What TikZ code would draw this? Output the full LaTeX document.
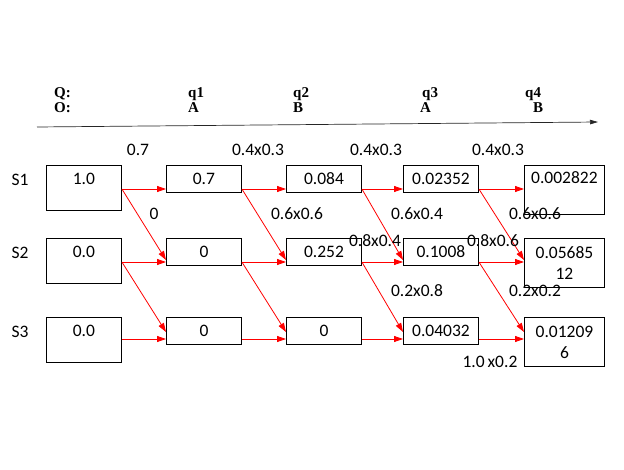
\documentclass[tikz,border=0pt]{standalone}
\usepackage{fontspec}
\setmainfont{Carlito}
\newfontfamily\hdrfont{Liberation Serif}
\usetikzlibrary{arrows.meta}
\newcommand\numsz{\fontsize{17.5}{21}\selectfont}
\newcommand\hdrsz{\hdrfont\bfseries\fontsize{15}{18}\selectfont}
\begin{document}
\begin{tikzpicture}[x=1pt,y=-1pt,
  every node/.style={inner sep=0pt},
  sbox/.style={draw=black,line width=0.9pt,anchor=north west,minimum width=75pt,text height=19pt,text depth=8pt,font=\numsz},
  tbox/.style={draw=black,line width=0.9pt,anchor=north west,minimum width=75pt,text height=19pt,text depth=26pt,font=\numsz},
  wbox/.style={draw=black,line width=0.9pt,anchor=north west,minimum width=80pt,minimum height=49pt,align=center,font=\numsz},
  lbl/.style={font=\numsz},
  hdr/.style={font=\hdrsz,anchor=base west},
  arr/.style={draw=red,line width=0.8pt,-{Triangle[length=9pt,width=6pt]}}]
\useasboundingbox (0,0) rectangle (624,470);
% header
\node[hdr] (hQ) at (54,98) {Q:};
\node[hdr] (hO) at (54,112.5) {O:};
\node[hdr] (hq1) at (188,98) {q1};
\node[hdr] (ho1) at (188,112.5) {A};
\node[hdr] (hq2) at (293,98) {q2};
\node[hdr] (ho2) at (293,112.5) {B};
\node[hdr] (hq3) at (422,98) {q3};
\node[hdr] (ho3) at (420,112.5) {A};
\node[hdr] (hq4) at (525,98) {q4};
\node[hdr] (ho4) at (533,112.5) {B};
\coordinate (ax0) at (37,127);
\coordinate (ax1) at (598,122);
\draw[black!85,line width=0.7pt,-{Triangle[length=8pt,width=4.5pt]}] (ax0) -- (ax1);
% state labels
\node[lbl] (s1) at (20,180) {S1};
\node[lbl] (s2) at (20,253) {S2};
\node[lbl] (s3) at (20,332) {S3};
% boxes column 0
\node[tbox] (a1) at (46,165) {1.0};
\node[tbox] (a2) at (46,238) {0.0};
\node[tbox] (a3) at (46,317) {0.0};
% column 1
\node[sbox] (b1) at (166,165) {0.7};
\node[sbox] (b2) at (166,238) {0};
\node[sbox] (b3) at (166,317) {0};
% column 2
\node[sbox] (c1) at (286,165) {0.084};
\node[sbox] (c2) at (286,238) {0.252};
\node[sbox] (c3) at (286,317) {0};
% column 3
\node[sbox] (d1) at (403,165) {0.02352};
\node[sbox] (d2) at (403,238) {0.1008};
\node[sbox] (d3) at (403,317) {0.04032};
% column 4
\node[wbox,text height=18.5pt,text depth=30.5pt,minimum height=0pt] (e1) at (524,165) {0.002822};
\node[wbox] (e2) at (524,238) {0.05685\\12};
\node[wbox] (e3) at (524,317) {0.01209\\6};
% arrows
\foreach \p/\q in {a/b,b/c,c/d,d/e}{
  \draw[arr] ([yshift=-24pt]\p1.north east) -- ([yshift=-24pt]\q1.north west);
  \draw[arr] ([yshift=-24pt]\p2.north east) -- ([yshift=-24pt]\q2.north west);
  \draw[arr] ([yshift=-22pt]\p3.north east) -- ([yshift=-22pt]\q3.north west);
  \draw[arr] ([yshift=-24pt]\p1.north east) -- ([yshift=-22pt]\q2.north west);
  \draw[arr] ([yshift=-24pt]\p2.north east) -- ([yshift=-15pt]\q3.north west);
}
% transition labels
\node[lbl] (t1) at (138,150) {0.7};
\node[lbl] (t2) at (258,150) {0.4x0.3};
\node[lbl] (t3) at (376,150) {0.4x0.3};
\node[lbl] (t4) at (498,150) {0.4x0.3};
\node[lbl] (t5) at (154,214) {0};
\node[lbl] (t6) at (297,214) {0.6x0.6};
\node[lbl] (t7) at (417,214) {0.6x0.4};
\node[lbl] (t8) at (535,214) {0.6x0.6};
\node[lbl] (t9) at (375,241) {0.8x0.4};
\node[lbl] (t10) at (493,241) {0.8x0.6};
\node[lbl] (t11) at (417,291) {0.2x0.8};
\node[lbl] (t12) at (535,291) {0.2x0.2};
\node[lbl] (t13) at (490,362) {1.0\,x0.2};
\end{tikzpicture}
\end{document}
